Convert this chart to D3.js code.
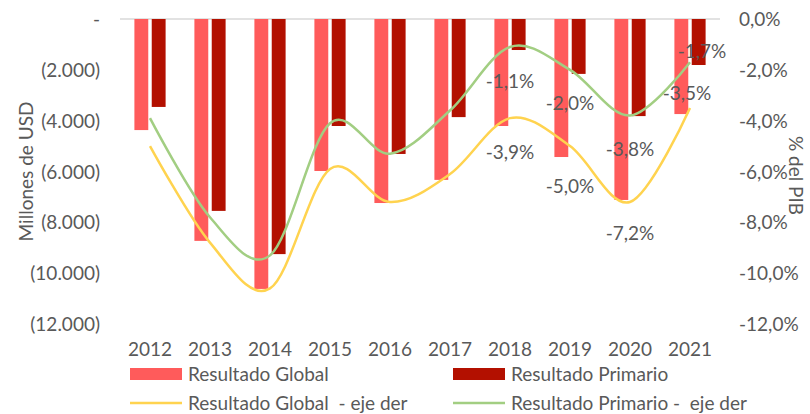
<!DOCTYPE html>
<html>
<head>
<meta charset="utf-8">
<script src="https://cdn.jsdelivr.net/npm/d3@7"></script>
<style>
  html, body { margin: 0; padding: 0; background: #fff; }
  svg { display: block; }
  text { font-family: Lato, "Open Sans", sans-serif; fill: #595959; }
</style>
</head>
<body>
<svg id="chart" width="810" height="414"></svg>
<script>
// ---- Data ----
const years = ["2012","2013","2014","2015","2016","2017","2018","2019","2020","2021"];
const resultadoGlobal   = [-4370, -8730, -10620, -5980, -7240, -6330, -4210, -5430, -7120, -3740];
const resultadoPrimario = [-3460, -7550, -9250, -4210, -5310, -3860, -1220, -2160, -3820, -1810];
const globalPIB   = [-5.0, -8.8, -10.6, -5.9, -7.2, -6.1, -3.9, -5.0, -7.2, -3.5];
const primarioPIB = [-3.9, -7.8, -9.3, -4.1, -5.3, -3.6, -1.1, -2.0, -3.8, -1.7];
const leftTicks  = [0, -2000, -4000, -6000, -8000, -10000, -12000];
const rightTicks = [0, -2, -4, -6, -8, -10, -12];
const labeledYears = ["2018","2019","2020","2021"];

// ---- Layout ----
const svg = d3.select("#chart");
const plot = { left: 120, right: 720, top: 19, bottom: 324 };
const colGlobal = "#FF5B5B", colPrim = "#B31000", colYellow = "#FFD34F", colGreen = "#A2CE82";
const fs = 19;

const x0 = d3.scaleBand().domain(years).range([plot.left, plot.right]).paddingInner(0.48).paddingOuter(0.24);
const x1 = d3.scaleBand().domain(["g","p"]).range([0, x0.bandwidth()]).paddingInner(0.2);
const yL = d3.scaleLinear().domain([-12000, 0]).range([plot.bottom, plot.top]);
const yR = d3.scaleLinear().domain([-12, 0]).range([plot.bottom, plot.top]);
const cx = d => x0(d) + x0.bandwidth() / 2;

// zero line
svg.append("line").attr("x1", plot.left).attr("x2", plot.right)
  .attr("y1", yL(0)).attr("y2", yL(0)).attr("stroke", "#D9D9D9").attr("stroke-width", 1.5);

// bars
const fmtL = v => v === 0 ? "-" : "(" + d3.format(",")(Math.abs(v)).replace(/,/g, ".") + ")";
svg.append("g").selectAll("rect.g").data(years).join("rect")
  .attr("x", d => x0(d) + x1("g")).attr("width", x1.bandwidth())
  .attr("y", yL(0)).attr("height", (d, i) => yL(resultadoGlobal[i]) - yL(0))
  .attr("fill", colGlobal);
svg.append("g").selectAll("rect.p").data(years).join("rect")
  .attr("x", d => x0(d) + x1("p")).attr("width", x1.bandwidth())
  .attr("y", yL(0)).attr("height", (d, i) => yL(resultadoPrimario[i]) - yL(0))
  .attr("fill", colPrim);

// lines
const line = d3.line().curve(d3.curveCatmullRom.alpha(0)).x(d => cx(d[0])).y(d => yR(d[1]));
svg.append("path").datum(years.map((y, i) => [y, globalPIB[i]]))
  .attr("d", line).attr("fill", "none").attr("stroke", colYellow).attr("stroke-width", 2.5);
svg.append("path").datum(years.map((y, i) => [y, primarioPIB[i]]))
  .attr("d", line).attr("fill", "none").attr("stroke", colGreen).attr("stroke-width", 2.5);

// left axis
const axL = d3.axisLeft(yL).tickValues(leftTicks).tickFormat(fmtL).tickSize(0).tickPadding(0);
const gL = svg.append("g").attr("transform", "translate(100,0)").call(axL);
gL.select(".domain").remove();
gL.selectAll("text").attr("font-size", fs).attr("font-family", "Lato").attr("fill", "#595959").attr("dy", "0.35em");

// right axis
const fmtR = v => d3.format(".1f")(v).replace(".", ",").replace("−", "-") + "%";
const axR = d3.axisRight(yR).tickValues(rightTicks).tickFormat(fmtR).tickSize(0).tickPadding(0);
const gR = svg.append("g").attr("transform", "translate(739,0)").call(axR);
gR.select(".domain").remove();
gR.selectAll("text").attr("font-size", fs).attr("font-family", "Lato").attr("fill", "#595959").attr("dy", "0.35em");

// x axis
const axX = d3.axisBottom(x0).tickSize(0).tickPadding(0);
const gX = svg.append("g").attr("transform", "translate(0,342)").call(axX);
gX.select(".domain").remove();
gX.selectAll("text").attr("font-size", fs).attr("font-family", "Lato").attr("fill", "#595959");

// axis titles
svg.append("text").attr("transform", `translate(26,${(plot.top + plot.bottom) / 2}) rotate(-90)`)
  .attr("text-anchor", "middle").attr("dy", "0.35em").attr("font-size", fs).text("Millones de USD");
svg.append("text").attr("transform", `translate(796,${(plot.top + plot.bottom) / 2 + 4}) rotate(90)`)
  .attr("text-anchor", "middle").attr("dy", "0.35em").attr("font-size", fs).text("% del PIB");

// data labels
const place = {
  g: { "2018": [0, 34], "2019": [0, 40], "2020": [0, 31], "2021": [-3, -15] },
  p: { "2018": [0, 34], "2019": [0, 34], "2020": [0, 34], "2021": [12, -11] }
};
labeledYears.forEach(yr => {
  const i = years.indexOf(yr);
  [["g", globalPIB[i]], ["p", primarioPIB[i]]].forEach(([k, v]) => {
    const off = place[k][yr];
    svg.append("text").attr("x", cx(yr) + off[0]).attr("y", yR(v) + off[1])
      .attr("text-anchor", "middle").attr("dy", "0.35em").attr("font-size", fs)
      .text(fmtR(v));
  });
});

// legend
const leg = [
  { type: "rect", color: colGlobal, label: "Resultado Global", x: 130, y: 374 },
  { type: "rect", color: colPrim, label: "Resultado Primario", x: 453, y: 374 },
  { type: "line", color: colYellow, label: "Resultado Global  - eje der", x: 130, y: 403 },
  { type: "line", color: colGreen, label: "Resultado Primario -  eje der", x: 453, y: 403 }
];
leg.forEach(d => {
  if (d.type === "rect") {
    svg.append("rect").attr("x", d.x).attr("y", d.y - 6).attr("width", 52).attr("height", 12).attr("fill", d.color);
  } else {
    svg.append("line").attr("x1", d.x).attr("x2", d.x + 52).attr("y1", d.y).attr("y2", d.y)
      .attr("stroke", d.color).attr("stroke-width", 2.5);
  }
  svg.append("text").attr("x", d.x + 58).attr("y", d.y).attr("dy", "0.35em")
    .attr("font-size", fs).style("white-space", "pre").attr("xml:space", "preserve").text(d.label);
});
</script>
</body>
</html>
